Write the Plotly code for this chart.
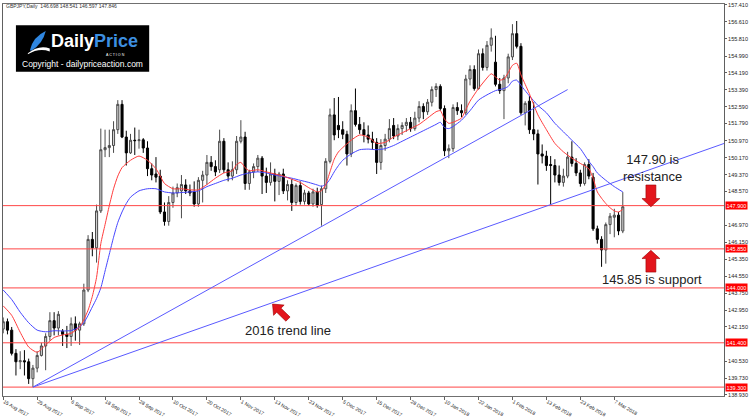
import math
import pandas as pd
import plotly.graph_objects as go

# ---------------- data ----------------
bdays = pd.bdate_range("2017-08-15", "2018-03-09")
closed_days = ["2017-12-25", "2018-01-01"]
dates = [d.strftime("%Y-%m-%d") for d in bdays if d.strftime("%Y-%m-%d") not in closed_days]

opens = [142.05,142.40,142.00,140.90,140.50,140.55,140.50,139.70,140.20,140.80,
         141.25,141.70,142.45,142.10,141.95,141.80,141.70,142.30,142.00,142.30,
         143.90,146.30,145.90,147.65,150.55,150.65,150.75,151.50,152.70,151.15,
         150.40,151.00,150.98,151.02,150.63,149.65,149.40,149.30,147.60,147.15,
         148.05,148.50,148.60,148.88,148.60,148.55,147.98,149.10,149.35,149.95,
         149.75,149.60,150.95,149.60,149.30,149.60,150.95,151.15,148.95,149.50,
         149.75,150.15,149.30,149.00,149.40,149.05,149.40,148.60,148.90,148.05,
         148.85,148.10,148.50,147.98,148.55,147.95,148.70,150.00,152.20,151.70,
         151.50,151.28,150.35,152.40,151.75,151.50,151.25,151.05,150.90,149.95,
         150.75,151.05,151.70,151.20,151.55,151.70,151.85,151.55,152.05,152.60,
         152.35,152.80,153.40,153.55,152.50,150.50,150.60,152.55,152.40,152.30,
         153.90,154.35,153.45,155.10,154.45,155.50,154.70,153.65,153.35,153.95,
         154.95,156.05,155.45,152.30,152.85,151.50,151.30,150.35,150.25,149.85,
         149.80,149.35,149.00,149.30,150.20,149.90,149.45,148.95,149.85,149.25,
         146.80,146.30,145.80,147.00,147.35,147.45,146.698]
highs = [142.60,142.55,142.15,141.10,141.00,141.05,140.65,140.35,141.00,141.40,
         141.85,142.85,142.85,142.90,142.05,142.20,142.60,142.65,142.40,144.20,
         146.50,146.65,147.95,151.55,151.50,151.50,151.90,152.90,152.90,151.45,
         151.30,151.60,151.50,151.10,150.95,149.90,150.20,149.60,148.05,148.35,
         148.80,148.95,149.35,149.15,148.90,149.05,149.25,149.55,150.30,150.25,
         150.05,151.50,151.10,149.95,150.00,151.20,151.95,151.40,149.60,149.90,
         150.30,150.25,149.70,149.95,149.65,149.50,149.65,149.10,149.15,148.95,
         149.05,148.65,148.60,148.70,148.75,148.85,150.15,152.50,153.00,153.05,
         151.90,151.45,152.70,153.45,152.10,151.85,151.70,151.40,151.10,151.05,
         151.30,152.00,152.05,151.75,151.85,152.05,152.10,152.35,152.85,152.75,
         152.95,153.55,153.70,153.65,152.65,150.80,152.70,152.80,152.70,154.10,
         154.55,154.55,155.30,155.35,155.70,156.30,155.95,153.95,154.10,155.10,
         156.50,156.65,155.60,152.85,153.10,152.80,151.50,150.80,150.50,150.25,
         150.10,149.80,149.65,150.45,150.95,150.15,149.60,149.95,150.10,149.45,
         146.95,146.45,147.10,147.55,147.75,147.60,148.541]
lows = [141.85,141.80,140.80,139.85,140.15,139.85,139.45,139.30,140.00,140.75,
        140.10,141.50,141.75,141.75,141.25,141.15,141.25,141.50,141.30,142.20,
        143.80,145.50,145.20,147.55,150.20,150.20,150.40,151.30,151.10,149.80,
        150.35,150.30,150.60,150.40,149.30,149.10,149.00,147.50,146.95,146.95,
        147.80,148.30,147.30,148.45,148.35,147.85,147.85,148.05,148.90,149.55,
        149.30,149.45,149.45,149.05,149.10,149.40,150.85,148.65,148.65,149.20,
        149.50,148.45,148.50,148.85,148.10,148.40,148.45,148.15,147.65,147.90,
        147.95,147.95,147.90,147.85,147.80,146.95,148.50,149.90,151.00,151.10,
        151.05,149.80,150.20,151.65,151.30,150.90,150.85,150.55,149.40,149.60,
        150.50,150.90,151.05,151.00,151.25,151.40,151.40,151.45,151.85,152.00,
        152.20,152.60,153.05,152.40,150.25,150.15,150.45,152.20,152.10,152.20,
        153.60,153.35,153.40,154.30,154.30,155.20,153.55,153.20,152.00,153.70,
        154.80,155.35,152.20,151.70,151.30,151.00,148.90,149.90,149.55,147.95,
        149.00,148.85,148.80,149.20,149.75,149.30,148.80,148.85,149.15,146.70,
        146.10,145.00,145.15,146.55,146.40,146.50,146.597]
closes = [142.40,142.00,140.90,140.50,140.55,140.50,139.70,140.20,140.80,141.25,
          141.70,142.45,142.10,142.75,141.80,141.70,142.30,142.00,142.30,143.90,
          146.30,145.90,147.65,150.55,150.65,150.75,151.50,152.70,151.15,150.40,
          151.00,150.98,151.02,150.63,149.65,149.35,149.25,147.60,147.15,148.05,
          148.50,148.75,148.90,148.60,148.50,147.98,149.10,149.35,149.95,149.75,
          149.50,150.95,149.60,149.30,149.60,150.95,151.15,148.95,149.50,149.75,
          150.15,149.30,149.00,149.40,149.05,149.40,148.60,148.90,148.05,148.85,
          148.10,148.50,147.98,148.55,147.90,148.70,150.00,152.20,151.25,151.50,
          151.28,150.35,152.40,151.75,151.50,151.25,151.05,150.90,149.95,150.75,
          151.05,151.55,151.20,151.55,151.70,151.85,151.55,152.05,152.60,152.35,
          152.80,153.40,153.55,152.50,150.50,150.60,152.55,152.40,152.30,153.90,
          154.35,153.45,155.10,154.45,155.50,155.85,153.65,153.35,153.95,154.95,
          156.05,155.45,152.30,152.75,151.50,151.30,150.35,150.25,149.80,149.80,
          149.35,149.00,149.30,150.20,149.90,149.45,148.95,149.85,149.30,146.80,
          146.30,145.80,147.00,147.40,147.45,146.70,147.846]

# fast (red) moving average: bar position -> value
ma_fast_bars = [0,2,4,6,8,10,12,14,16,18,19,20,21,22,23,24,25,26,27,28,30,32,34,36,37,38,40,42,44,46,48,50,52,54,55,56,57,58,60,62,64,66,68,70,72,74,75,76,77,78,79,80,82,84,86,88,90,92,94,96,98,100,102,103,104,105,106,108,109,110,112,114,115,116,117,118,119,120,121,122,123,124,126,128,130,132,134,136,138,139,140,141,142,143,144,145,146]
ma_fast_vals = [143.15,142.70,141.90,141.20,140.95,141.30,141.65,141.77,141.85,142.15,142.50,142.95,143.60,144.50,146.10,147.00,147.90,148.70,149.30,149.70,150.05,150.25,150.05,149.65,149.30,148.95,148.70,148.70,148.65,148.65,148.90,149.20,149.45,149.55,149.85,149.95,149.70,149.55,149.60,149.50,149.40,149.30,149.15,149.00,148.75,148.55,148.60,148.90,149.50,150.10,150.45,150.65,151.00,151.25,151.15,150.85,150.90,151.15,151.35,151.55,151.75,152.05,152.35,152.40,152.00,151.80,151.85,152.05,152.45,152.85,153.45,153.95,154.15,154.00,153.85,153.90,154.20,154.55,154.65,154.10,153.65,153.20,152.20,151.50,150.85,150.45,150.15,149.90,149.65,149.20,148.55,148.25,148.00,147.80,147.65,147.60,147.72]
# slow (blue) moving average
ma_slow_bars = [0,2,4,6,8,10,12,14,16,18,19,20,21,22,23,24,25,26,27,28,29,30,32,34,36,38,40,42,44,46,48,50,52,54,56,58,60,62,64,66,68,70,72,74,75,76,77,78,79,80,82,84,86,88,90,92,94,96,98,100,102,103,104,105,106,108,110,112,114,116,118,119,120,121,122,123,124,126,128,130,132,134,136,138,139,140,142,144,146]
ma_slow_vals = [143.90,143.45,142.85,142.35,142.00,141.92,141.97,141.96,141.98,142.15,142.35,142.70,143.10,143.50,144.00,144.80,145.60,146.40,147.10,147.60,148.00,148.30,148.60,148.70,148.70,148.55,148.50,148.52,148.55,148.60,148.80,148.95,149.10,149.20,149.35,149.45,149.50,149.45,149.35,149.27,149.20,149.10,149.00,148.88,148.82,148.90,149.15,149.50,149.80,150.05,150.35,150.55,150.58,150.55,150.60,150.75,150.95,151.15,151.35,151.55,151.75,151.85,151.60,151.55,151.65,151.95,152.40,152.90,153.15,153.35,153.45,153.55,153.80,153.85,153.60,153.35,153.10,152.65,152.30,151.80,151.40,151.00,150.60,150.00,149.75,149.45,149.10,148.80,148.55]

levels = [147.900, 145.850, 144.000, 141.400, 139.300]
level_labels = ["147.900", "145.850", "144.000", "141.400", "139.300"]

price_ticks = [157.410, 156.610, 155.810, 154.990, 154.190, 153.390, 152.590, 151.790,
               150.970, 150.170, 149.370, 148.570, 146.970, 146.150, 145.350, 144.550,
               143.750, 142.950, 142.150, 140.530, 139.730, 138.930]
date_ticks = ["2017-08-15", "2017-08-25", "2017-09-06", "2017-09-18", "2017-09-28",
              "2017-10-10", "2017-10-20", "2017-11-01", "2017-11-13", "2017-11-23",
              "2017-12-05", "2017-12-15", "2017-12-28", "2018-01-10", "2018-01-22",
              "2018-02-01", "2018-02-13", "2018-02-23", "2018-03-07"]
date_tick_labels = ["15 Aug 2017", "25 Aug 2017", "6 Sep 2017", "18 Sep 2017", "28 Sep 2017",
                    "10 Oct 2017", "20 Oct 2017", "1 Nov 2017", "13 Nov 2017", "23 Nov 2017",
                    "5 Dec 2017", "15 Dec 2017", "28 Dec 2017", "10 Jan 2018", "22 Jan 2018",
                    "1 Feb 2018", "13 Feb 2018", "23 Feb 2018", "7 Mar 2018"]

# trend lines: anchor points (date, price)
trend_origin = ("2017-08-24", 139.30)
trend_steep_end = ("2018-02-20", 153.40)
trend_2016_through = ("2018-02-14", 147.95)

header_text = "GBPJPY,Daily  146.698 148.541 146.597 147.846"

# ---------------- geometry ----------------
W, H = 750, 420
PL, PR, PT, PB = 2, 727, 3, 408
X_RANGE = [-0.05, 169.85]
Y_RANGE = [138.878, 157.456]

def px(x):
    return (x - PL) / (PR - PL)

def py(y):
    return 1 - (y - PT) / (PB - PT)

def path_from_px(points):
    return "M " + " L ".join(f"{px(x):.5f},{py(y):.5f}" for x, y in points) + " Z"

fig = go.Figure()

fig.add_trace(go.Candlestick(
    x=dates, open=opens, high=highs, low=lows, close=closes,
    increasing=dict(line=dict(color="#4a4a4a", width=1), fillcolor="#d2d2d2"),
    decreasing=dict(line=dict(color="#000000", width=1), fillcolor="#000000"),
    whiskerwidth=0, hoverinfo="skip", showlegend=False,
))

fig.add_trace(go.Scatter(
    x=[dates[i] for i in ma_slow_bars], y=ma_slow_vals, mode="lines",
    line=dict(color="rgb(70,70,255)", width=1, shape="spline", smoothing=0.6),
    hoverinfo="skip", showlegend=False,
))
fig.add_trace(go.Scatter(
    x=[dates[i] for i in ma_fast_bars], y=ma_fast_vals, mode="lines",
    line=dict(color="rgb(255,60,60)", width=1, shape="spline", smoothing=0.6),
    hoverinfo="skip", showlegend=False,
))

shapes = []
for lv in levels:
    shapes.append(dict(type="line", xref="paper", yref="y", x0=0, x1=1, y0=lv, y1=lv,
                       line=dict(color="rgb(255,70,70)", width=1), layer="above"))

i0 = dates.index(trend_origin[0])
i1 = dates.index(trend_steep_end[0])
shapes.append(dict(type="line", xref="x", yref="y", x0=i0, y0=trend_origin[1],
                   x1=i1, y1=trend_steep_end[1],
                   line=dict(color="rgb(90,90,255)", width=1)))
i2 = dates.index(trend_2016_through[0])
slope = (trend_2016_through[1] - trend_origin[1]) / (i2 - i0)
x_end = X_RANGE[1]
shapes.append(dict(type="line", xref="x", yref="y", x0=i0, y0=trend_origin[1],
                   x1=x_end, y1=trend_origin[1] + slope * (x_end - i0),
                   line=dict(color="rgb(90,90,255)", width=1)))

ARROW_FILL = "#e3151c"
ARROW_LINE = "#9a0000"
cx = 653.5
down_arrow = [(cx - 5, 190), (cx + 5, 190), (cx + 5, 204), (cx + 9, 204), (cx, 212.5),
              (cx - 9, 204), (cx - 5, 204)]
up_arrow = [(cx, 257.5), (cx + 9, 266), (cx + 5, 266), (cx + 5, 280), (cx - 5, 280),
            (cx - 5, 266), (cx - 9, 266)]
for pts in (down_arrow, up_arrow):
    shapes.append(dict(type="path", xref="paper", yref="paper", path=path_from_px(pts),
                       fillcolor=ARROW_FILL, line=dict(color=ARROW_LINE, width=0.6)))

local = [(0, -12), (7.5, -3), (3, -3), (3, 10), (-3, 10), (-3, -3), (-7.5, -3)]
th = math.radians(45)
acx, acy = 281.5, 321.5
rot = [(acx + x * math.cos(th) + y * math.sin(th), acy - x * math.sin(th) + y * math.cos(th))
       for x, y in local]
shapes.append(dict(type="path", xref="paper", yref="paper", path=path_from_px(rot),
                   fillcolor=ARROW_FILL, line=dict(color=ARROW_LINE, width=0.6)))

# logo box
shapes.append(dict(type="rect", xref="paper", yref="paper",
                   x0=px(15), x1=px(149), y0=py(73), y1=py(25),
                   fillcolor="#000000", line=dict(width=0)))
shapes.append(dict(type="path", xref="paper", yref="paper",
                   path=f"M {px(29):.5f},{py(51):.5f} Q {px(32):.5f},{py(37):.5f} {px(45):.5f},{py(31):.5f} "
                        f"Q {px(42):.5f},{py(44):.5f} {px(31):.5f},{py(51):.5f} Z",
                   fillcolor="#2f86e0", line=dict(width=0)))
shapes.append(dict(type="path", xref="paper", yref="paper",
                   path=f"M {px(27):.5f},{py(54):.5f} Q {px(38):.5f},{py(45):.5f} {px(49):.5f},{py(49):.5f} "
                        f"L {px(49):.5f},{py(52):.5f} Q {px(38):.5f},{py(48):.5f} {px(27):.5f},{py(55):.5f} Z",
                   fillcolor="#ffffff", line=dict(width=0)))

annotations = []
for lv, lab in zip(levels, level_labels):
    annotations.append(dict(xref="paper", yref="y", x=1, y=lv, xanchor="left", yanchor="middle",
                            xshift=1, text=lab, showarrow=False,
                            font=dict(family="Liberation Sans", size=5.5, color="white"),
                            bgcolor="#ff0000", borderpad=0.5))

TXT = dict(family="Liberation Sans", size=13, color="#222222")
annotations.append(dict(xref="paper", yref="paper", x=px(655), y=py(172), text="147.90 is<br>resistance",
                        showarrow=False, font=TXT, xanchor="center", yanchor="middle"))
annotations.append(dict(xref="paper", yref="paper", x=px(655), y=py(288), text="145.85 is support",
                        showarrow=False, font=TXT, xanchor="center", yanchor="middle"))
annotations.append(dict(xref="paper", yref="paper", x=px(289), y=py(340), text="2016 trend line",
                        showarrow=False, font=TXT, xanchor="center", yanchor="middle"))
annotations.append(dict(xref="paper", yref="paper", x=px(3), y=py(5.5), text=header_text,
                        showarrow=False, xanchor="left", yanchor="middle",
                        font=dict(family="Liberation Sans", size=5, color="#333333")))
annotations.append(dict(xref="paper", yref="paper", x=px(94), y=py(41.5), showarrow=False,
                        xanchor="center", yanchor="middle",
                        text="<b><span style='color:#ffffff'>Daily</span><span style='color:#3d8fe0'>Price</span></b>",
                        font=dict(family="Liberation Sans", size=18, color="#ffffff")))
annotations.append(dict(xref="paper", yref="paper", x=px(115), y=py(56), showarrow=False,
                        xanchor="center", yanchor="middle", text="A C T I O N",
                        font=dict(family="Liberation Sans", size=3.6, color="#ffffff")))
annotations.append(dict(xref="paper", yref="paper", x=px(82), y=py(65.5), showarrow=False,
                        xanchor="center", yanchor="middle", text="Copyright - dailypriceaction.com",
                        font=dict(family="Liberation Sans", size=8.5, color="#ffffff")))

fig.update_layout(
    width=W, height=H,
    margin=dict(l=PL, r=W - PR, t=PT, b=H - PB, pad=0),
    paper_bgcolor="white", plot_bgcolor="white",
    showlegend=False, hovermode=False,
    shapes=shapes, annotations=annotations,
    xaxis=dict(type="category", categoryorder="array", categoryarray=dates,
               range=X_RANGE, rangeslider=dict(visible=False),
               showgrid=False, zeroline=False,
               showline=True, linecolor="#707070", linewidth=1, mirror=True,
               ticks="outside", ticklen=3, tickcolor="#606060", tickwidth=1,
               tickvals=date_ticks, ticktext=date_tick_labels,
               ticklabelposition="outside right",
               tickfont=dict(family="Liberation Sans", size=5, color="#222222")),
    yaxis=dict(side="right", range=Y_RANGE, showgrid=False, zeroline=False,
               showline=True, linecolor="#606060", linewidth=1, mirror=True,
               ticks="outside", ticklen=2, tickcolor="#606060",
               tickvals=price_ticks, ticktext=[f"{v:.3f}" for v in price_ticks],
               tickfont=dict(family="Liberation Sans", size=5.5, color="#222222")),
)

fig.write_html("out.html")
